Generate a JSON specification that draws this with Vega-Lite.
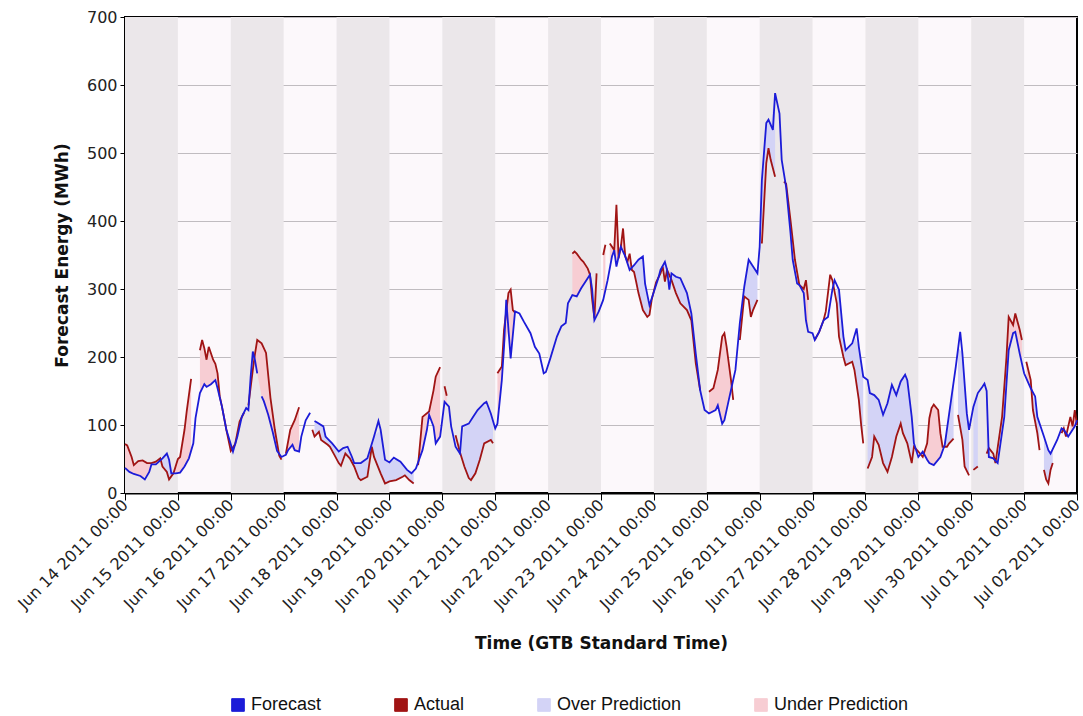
{
"$schema": "https://vega.github.io/schema/vega-lite/v6.json",
"width": 952, "height": 476,
"autosize": {"type": "none"},
"padding": {"left": 125, "top": 17, "right": 6, "bottom": 223},
"background": "white",
"config": {
  "view": {"fill": "#fcf8fb", "stroke": "#000", "strokeWidth": 2},
  "axis": {"labelFont": "DejaVu Sans", "labelFontSize": 16, "labelColor": "#222", "titleFont": "DejaVu Sans", "titleFontWeight": "bold", "titleFontSize": 17, "titleColor": "#111", "domainColor": "#000", "domainWidth": 2, "tickColor": "#000"},
  "axisY": {"gridColor": "#c0bcc0", "tickSize": 5, "labelPadding": 3, "titlePadding": 15},
  "axisX": {"grid": false, "tickSize": 7, "titlePadding": 24}
},
"datasets": {
"bands": [
{"s":"2011-06-14T00:00","e":"2011-06-15T00:00"},{"s":"2011-06-16T00:00","e":"2011-06-17T00:00"},{"s":"2011-06-18T00:00","e":"2011-06-19T00:00"},{"s":"2011-06-20T00:00","e":"2011-06-21T00:00"},{"s":"2011-06-22T00:00","e":"2011-06-23T00:00"},{"s":"2011-06-24T00:00","e":"2011-06-25T00:00"},{"s":"2011-06-26T00:00","e":"2011-06-27T00:00"},{"s":"2011-06-28T00:00","e":"2011-06-29T00:00"},{"s":"2011-06-30T00:00","e":"2011-07-01T00:00"}
],
"forecast": [
{"g":1,"t":"2011-06-14T00:00","v":37},{"g":1,"t":"2011-06-14T02:00","v":31},{"g":1,"t":"2011-06-14T04:00","v":28},{"g":1,"t":"2011-06-14T07:00","v":25},{"g":1,"t":"2011-06-14T09:00","v":20},{"g":1,"t":"2011-06-14T11:00","v":31},{"g":1,"t":"2011-06-14T12:00","v":42},{"g":1,"t":"2011-06-14T14:00","v":42},{"g":1,"t":"2011-06-14T17:00","v":51},{"g":1,"t":"2011-06-14T19:00","v":58},{"g":1,"t":"2011-06-14T20:00","v":49},{"g":1,"t":"2011-06-14T21:00","v":29},{"g":1,"t":"2011-06-14T23:00","v":29},
{"g":1,"t":"2011-06-15T01:00","v":30},{"g":1,"t":"2011-06-15T03:00","v":39},{"g":1,"t":"2011-06-15T05:00","v":51},{"g":1,"t":"2011-06-15T07:00","v":73},{"g":1,"t":"2011-06-15T08:00","v":110},{"g":1,"t":"2011-06-15T10:00","v":147},{"g":1,"t":"2011-06-15T12:00","v":160},{"g":1,"t":"2011-06-15T13:00","v":156},{"g":1,"t":"2011-06-15T15:00","v":160},{"g":1,"t":"2011-06-15T17:00","v":166},{"g":1,"t":"2011-06-15T18:00","v":154},{"g":1,"t":"2011-06-15T20:00","v":127},{"g":1,"t":"2011-06-15T22:00","v":93},
{"g":1,"t":"2011-06-16T01:00","v":61},{"g":1,"t":"2011-06-16T03:00","v":83},{"g":1,"t":"2011-06-16T05:00","v":112},{"g":1,"t":"2011-06-16T07:00","v":125},{"g":1,"t":"2011-06-16T08:00","v":122},{"g":1,"t":"2011-06-16T09:00","v":170},{"g":1,"t":"2011-06-16T10:00","v":208},{"g":1,"t":"2011-06-16T11:00","v":195},{"g":1,"t":"2011-06-16T12:00","v":176},{"g":2,"t":"2011-06-16T14:00","v":142},{"g":2,"t":"2011-06-16T15:00","v":135},{"g":2,"t":"2011-06-16T17:00","v":115},{"g":2,"t":"2011-06-16T19:00","v":90},{"g":2,"t":"2011-06-16T21:00","v":62},{"g":2,"t":"2011-06-16T23:00","v":53},
{"g":2,"t":"2011-06-17T01:00","v":56},{"g":2,"t":"2011-06-17T02:00","v":63},{"g":2,"t":"2011-06-17T04:00","v":71},{"g":2,"t":"2011-06-17T05:00","v":63},{"g":2,"t":"2011-06-17T07:00","v":61},{"g":2,"t":"2011-06-17T08:00","v":83},{"g":2,"t":"2011-06-17T10:00","v":107},{"g":2,"t":"2011-06-17T12:00","v":118},{"g":3,"t":"2011-06-17T14:00","v":106},{"g":3,"t":"2011-06-17T15:00","v":104},{"g":3,"t":"2011-06-17T18:00","v":98},{"g":3,"t":"2011-06-17T19:00","v":83},{"g":3,"t":"2011-06-17T22:00","v":73},
{"g":3,"t":"2011-06-18T01:00","v":61},{"g":3,"t":"2011-06-18T03:00","v":66},{"g":3,"t":"2011-06-18T05:00","v":68},{"g":3,"t":"2011-06-18T07:00","v":53},{"g":3,"t":"2011-06-18T08:00","v":44},{"g":3,"t":"2011-06-18T11:00","v":44},{"g":3,"t":"2011-06-18T14:00","v":51},{"g":3,"t":"2011-06-18T17:00","v":83},{"g":3,"t":"2011-06-18T19:00","v":106},{"g":3,"t":"2011-06-18T20:00","v":93},{"g":3,"t":"2011-06-18T22:00","v":49},
{"g":3,"t":"2011-06-19T00:00","v":45},{"g":3,"t":"2011-06-19T02:00","v":52},{"g":3,"t":"2011-06-19T05:00","v":46},{"g":3,"t":"2011-06-19T08:00","v":34},{"g":3,"t":"2011-06-19T10:00","v":29},{"g":3,"t":"2011-06-19T12:00","v":36},{"g":3,"t":"2011-06-19T15:00","v":63},{"g":3,"t":"2011-06-19T17:00","v":93},{"g":3,"t":"2011-06-19T18:00","v":115},{"g":3,"t":"2011-06-19T20:00","v":98},{"g":3,"t":"2011-06-19T21:00","v":73},{"g":3,"t":"2011-06-19T23:00","v":83},
{"g":3,"t":"2011-06-20T01:00","v":134},{"g":3,"t":"2011-06-20T03:00","v":127},{"g":3,"t":"2011-06-20T04:00","v":98},{"g":3,"t":"2011-06-20T06:00","v":68},{"g":3,"t":"2011-06-20T08:00","v":58},{"g":3,"t":"2011-06-20T09:00","v":98},{"g":3,"t":"2011-06-20T12:00","v":102},{"g":3,"t":"2011-06-20T14:00","v":112},{"g":3,"t":"2011-06-20T16:00","v":122},{"g":3,"t":"2011-06-20T19:00","v":132},{"g":3,"t":"2011-06-20T20:00","v":134},{"g":3,"t":"2011-06-20T22:00","v":117},
{"g":3,"t":"2011-06-21T00:00","v":95},{"g":3,"t":"2011-06-21T01:00","v":102},{"g":3,"t":"2011-06-21T03:00","v":166},{"g":3,"t":"2011-06-21T04:00","v":215},{"g":3,"t":"2011-06-21T05:00","v":284},{"g":3,"t":"2011-06-21T07:00","v":198},{"g":3,"t":"2011-06-21T09:00","v":267},{"g":3,"t":"2011-06-21T11:00","v":264},{"g":3,"t":"2011-06-21T13:00","v":252},{"g":3,"t":"2011-06-21T16:00","v":235},{"g":3,"t":"2011-06-21T18:00","v":215},{"g":3,"t":"2011-06-21T20:00","v":205},{"g":3,"t":"2011-06-21T22:00","v":176},{"g":3,"t":"2011-06-21T23:00","v":178},
{"g":3,"t":"2011-06-22T01:00","v":198},{"g":3,"t":"2011-06-22T04:00","v":230},{"g":3,"t":"2011-06-22T06:00","v":245},{"g":3,"t":"2011-06-22T08:00","v":250},{"g":3,"t":"2011-06-22T09:00","v":279},{"g":3,"t":"2011-06-22T11:00","v":291},{"g":3,"t":"2011-06-22T13:00","v":289},{"g":3,"t":"2011-06-22T15:00","v":301},{"g":3,"t":"2011-06-22T17:00","v":311},{"g":3,"t":"2011-06-22T19:00","v":321},{"g":3,"t":"2011-06-22T20:00","v":299},{"g":3,"t":"2011-06-22T21:00","v":254},{"g":3,"t":"2011-06-22T23:00","v":267},
{"g":3,"t":"2011-06-23T01:00","v":284},{"g":3,"t":"2011-06-23T03:00","v":313},{"g":3,"t":"2011-06-23T05:00","v":348},{"g":3,"t":"2011-06-23T06:00","v":357},{"g":3,"t":"2011-06-23T07:00","v":333},{"g":3,"t":"2011-06-23T09:00","v":362},{"g":3,"t":"2011-06-23T11:00","v":348},{"g":3,"t":"2011-06-23T13:00","v":328},{"g":3,"t":"2011-06-23T15:00","v":335},{"g":3,"t":"2011-06-23T17:00","v":343},{"g":3,"t":"2011-06-23T19:00","v":348},{"g":3,"t":"2011-06-23T20:00","v":308},{"g":3,"t":"2011-06-23T22:00","v":276},
{"g":3,"t":"2011-06-24T00:00","v":296},{"g":3,"t":"2011-06-24T02:00","v":316},{"g":3,"t":"2011-06-24T03:00","v":328},{"g":3,"t":"2011-06-24T05:00","v":340},{"g":3,"t":"2011-06-24T06:00","v":328},{"g":3,"t":"2011-06-24T07:00","v":299},{"g":3,"t":"2011-06-24T08:00","v":323},{"g":3,"t":"2011-06-24T10:00","v":318},{"g":3,"t":"2011-06-24T12:00","v":316},{"g":3,"t":"2011-06-24T15:00","v":294},{"g":3,"t":"2011-06-24T17:00","v":264},{"g":3,"t":"2011-06-24T19:00","v":205},{"g":3,"t":"2011-06-24T21:00","v":151},{"g":3,"t":"2011-06-24T23:00","v":122},
{"g":3,"t":"2011-06-25T01:00","v":117},{"g":3,"t":"2011-06-25T04:00","v":122},{"g":3,"t":"2011-06-25T05:00","v":129},{"g":3,"t":"2011-06-25T07:00","v":102},{"g":3,"t":"2011-06-25T08:00","v":107},{"g":3,"t":"2011-06-25T10:00","v":137},{"g":3,"t":"2011-06-25T13:00","v":181},{"g":3,"t":"2011-06-25T15:00","v":250},{"g":3,"t":"2011-06-25T17:00","v":303},{"g":3,"t":"2011-06-25T19:00","v":343},{"g":3,"t":"2011-06-25T21:00","v":333},{"g":3,"t":"2011-06-25T23:00","v":323},
{"g":3,"t":"2011-06-26T00:00","v":362},{"g":3,"t":"2011-06-26T01:00","v":460},{"g":3,"t":"2011-06-26T03:00","v":544},{"g":3,"t":"2011-06-26T04:00","v":549},{"g":3,"t":"2011-06-26T06:00","v":534},{"g":3,"t":"2011-06-26T07:00","v":588},{"g":3,"t":"2011-06-26T09:00","v":558},{"g":3,"t":"2011-06-26T10:00","v":490},{"g":3,"t":"2011-06-26T12:00","v":450},{"g":3,"t":"2011-06-26T14:00","v":382},{"g":3,"t":"2011-06-26T15:00","v":343},{"g":3,"t":"2011-06-26T17:00","v":308},{"g":3,"t":"2011-06-26T18:00","v":306},{"g":3,"t":"2011-06-26T20:00","v":294},{"g":3,"t":"2011-06-26T21:00","v":254},{"g":3,"t":"2011-06-26T22:00","v":237},
{"g":3,"t":"2011-06-27T00:00","v":235},{"g":3,"t":"2011-06-27T01:00","v":225},{"g":3,"t":"2011-06-27T03:00","v":237},{"g":3,"t":"2011-06-27T05:00","v":254},{"g":3,"t":"2011-06-27T07:00","v":259},{"g":3,"t":"2011-06-27T09:00","v":299},{"g":3,"t":"2011-06-27T10:00","v":313},{"g":3,"t":"2011-06-27T12:00","v":299},{"g":3,"t":"2011-06-27T14:00","v":230},{"g":3,"t":"2011-06-27T15:00","v":210},{"g":3,"t":"2011-06-27T18:00","v":220},{"g":3,"t":"2011-06-27T20:00","v":242},{"g":3,"t":"2011-06-27T21:00","v":215},{"g":3,"t":"2011-06-27T23:00","v":171},
{"g":3,"t":"2011-06-28T01:00","v":166},{"g":3,"t":"2011-06-28T02:00","v":147},{"g":3,"t":"2011-06-28T04:00","v":144},{"g":3,"t":"2011-06-28T06:00","v":137},{"g":3,"t":"2011-06-28T08:00","v":115},{"g":3,"t":"2011-06-28T10:00","v":132},{"g":3,"t":"2011-06-28T12:00","v":159},{"g":3,"t":"2011-06-28T14:00","v":144},{"g":3,"t":"2011-06-28T16:00","v":164},{"g":3,"t":"2011-06-28T18:00","v":174},{"g":3,"t":"2011-06-28T19:00","v":166},{"g":3,"t":"2011-06-28T21:00","v":112},{"g":3,"t":"2011-06-28T22:00","v":73},
{"g":3,"t":"2011-06-29T00:00","v":53},{"g":3,"t":"2011-06-29T02:00","v":61},{"g":3,"t":"2011-06-29T04:00","v":49},{"g":3,"t":"2011-06-29T05:00","v":44},{"g":3,"t":"2011-06-29T07:00","v":41},{"g":3,"t":"2011-06-29T10:00","v":53},{"g":3,"t":"2011-06-29T12:00","v":71},{"g":3,"t":"2011-06-29T14:00","v":117},{"g":3,"t":"2011-06-29T17:00","v":186},{"g":3,"t":"2011-06-29T19:00","v":237},{"g":3,"t":"2011-06-29T20:00","v":205},{"g":3,"t":"2011-06-29T22:00","v":117},{"g":3,"t":"2011-06-29T23:00","v":93},
{"g":3,"t":"2011-06-30T01:00","v":127},{"g":3,"t":"2011-06-30T03:00","v":147},{"g":3,"t":"2011-06-30T05:00","v":156},{"g":3,"t":"2011-06-30T06:00","v":161},{"g":3,"t":"2011-06-30T07:00","v":150},{"g":3,"t":"2011-06-30T08:00","v":53},{"g":3,"t":"2011-06-30T10:00","v":51},{"g":3,"t":"2011-06-30T12:00","v":44},{"g":3,"t":"2011-06-30T15:00","v":112},{"g":3,"t":"2011-06-30T17:00","v":210},{"g":3,"t":"2011-06-30T19:00","v":235},{"g":3,"t":"2011-06-30T20:00","v":237},{"g":3,"t":"2011-06-30T22:00","v":205},
{"g":3,"t":"2011-07-01T00:00","v":176},{"g":3,"t":"2011-07-01T03:00","v":154},{"g":3,"t":"2011-07-01T05:00","v":142},{"g":3,"t":"2011-07-01T06:00","v":112},{"g":3,"t":"2011-07-01T09:00","v":83},{"g":3,"t":"2011-07-01T11:00","v":63},{"g":3,"t":"2011-07-01T12:00","v":58},{"g":3,"t":"2011-07-01T15:00","v":78},{"g":3,"t":"2011-07-01T17:00","v":95},{"g":3,"t":"2011-07-01T18:00","v":93},{"g":3,"t":"2011-07-01T20:00","v":83},{"g":3,"t":"2011-07-01T22:00","v":93},{"g":3,"t":"2011-07-01T23:00","v":98},{"g":3,"t":"2011-07-02T00:00","v":107}
],
"actual": [
{"g":1,"t":"2011-06-14T00:00","v":72},{"g":1,"t":"2011-06-14T01:00","v":70},{"g":1,"t":"2011-06-14T03:00","v":53},{"g":1,"t":"2011-06-14T04:00","v":41},{"g":1,"t":"2011-06-14T06:00","v":47},{"g":1,"t":"2011-06-14T08:00","v":48},{"g":1,"t":"2011-06-14T10:00","v":44},{"g":1,"t":"2011-06-14T12:00","v":44},{"g":1,"t":"2011-06-14T14:00","v":46},{"g":1,"t":"2011-06-14T16:00","v":51},{"g":1,"t":"2011-06-14T17:00","v":39},{"g":1,"t":"2011-06-14T19:00","v":31},{"g":1,"t":"2011-06-14T20:00","v":20},{"g":1,"t":"2011-06-14T22:00","v":29},
{"g":1,"t":"2011-06-15T00:00","v":50},{"g":1,"t":"2011-06-15T01:00","v":53},{"g":1,"t":"2011-06-15T03:00","v":93},{"g":1,"t":"2011-06-15T04:00","v":120},{"g":1,"t":"2011-06-15T06:00","v":168},
{"g":2,"t":"2011-06-15T10:00","v":210},{"g":2,"t":"2011-06-15T11:00","v":225},{"g":2,"t":"2011-06-15T12:00","v":213},{"g":2,"t":"2011-06-15T13:00","v":196},{"g":2,"t":"2011-06-15T14:00","v":215},{"g":2,"t":"2011-06-15T16:00","v":196},{"g":2,"t":"2011-06-15T17:00","v":190},{"g":2,"t":"2011-06-15T18:00","v":176},{"g":2,"t":"2011-06-15T19:00","v":142},{"g":2,"t":"2011-06-15T20:00","v":127},{"g":2,"t":"2011-06-15T22:00","v":93},
{"g":2,"t":"2011-06-16T00:00","v":62},{"g":2,"t":"2011-06-16T02:00","v":72},{"g":2,"t":"2011-06-16T04:00","v":105},{"g":2,"t":"2011-06-16T06:00","v":118},
{"g":3,"t":"2011-06-16T08:00","v":129},{"g":3,"t":"2011-06-16T10:00","v":181},{"g":3,"t":"2011-06-16T11:00","v":205},{"g":3,"t":"2011-06-16T12:00","v":225},{"g":3,"t":"2011-06-16T14:00","v":220},{"g":3,"t":"2011-06-16T16:00","v":206},{"g":3,"t":"2011-06-16T18:00","v":140},{"g":3,"t":"2011-06-16T20:00","v":93},{"g":3,"t":"2011-06-16T22:00","v":55},{"g":3,"t":"2011-06-16T23:00","v":49},
{"g":4,"t":"2011-06-17T01:00","v":58},{"g":4,"t":"2011-06-17T03:00","v":93},{"g":4,"t":"2011-06-17T05:00","v":107},{"g":4,"t":"2011-06-17T07:00","v":126},
{"g":5,"t":"2011-06-17T13:00","v":93},{"g":5,"t":"2011-06-17T14:00","v":83},{"g":5,"t":"2011-06-17T16:00","v":90},{"g":5,"t":"2011-06-17T17:00","v":78},{"g":5,"t":"2011-06-17T20:00","v":71},{"g":5,"t":"2011-06-17T21:00","v":68},{"g":5,"t":"2011-06-17T23:00","v":56},
{"g":5,"t":"2011-06-18T01:00","v":44},{"g":5,"t":"2011-06-18T02:00","v":40},{"g":5,"t":"2011-06-18T04:00","v":58},{"g":5,"t":"2011-06-18T06:00","v":51},{"g":5,"t":"2011-06-18T08:00","v":39},{"g":5,"t":"2011-06-18T10:00","v":22},{"g":5,"t":"2011-06-18T11:00","v":19},{"g":5,"t":"2011-06-18T14:00","v":24},{"g":5,"t":"2011-06-18T16:00","v":68},{"g":5,"t":"2011-06-18T17:00","v":53},{"g":5,"t":"2011-06-18T20:00","v":29},{"g":5,"t":"2011-06-18T22:00","v":14},
{"g":5,"t":"2011-06-19T00:00","v":17},{"g":5,"t":"2011-06-19T03:00","v":19},{"g":5,"t":"2011-06-19T06:00","v":24},{"g":5,"t":"2011-06-19T07:00","v":26},{"g":5,"t":"2011-06-19T09:00","v":19},{"g":5,"t":"2011-06-19T11:00","v":14},
{"g":6,"t":"2011-06-19T13:00","v":41},{"g":6,"t":"2011-06-19T15:00","v":112},{"g":6,"t":"2011-06-19T18:00","v":120},{"g":6,"t":"2011-06-19T20:00","v":151},{"g":6,"t":"2011-06-19T21:00","v":171},{"g":6,"t":"2011-06-19T23:00","v":185},
{"g":7,"t":"2011-06-20T01:00","v":157},{"g":7,"t":"2011-06-20T02:00","v":143},
{"g":8,"t":"2011-06-20T06:00","v":85},{"g":8,"t":"2011-06-20T08:00","v":60},{"g":8,"t":"2011-06-20T10:00","v":39},{"g":8,"t":"2011-06-20T12:00","v":22},{"g":8,"t":"2011-06-20T13:00","v":19},{"g":8,"t":"2011-06-20T15:00","v":29},{"g":8,"t":"2011-06-20T17:00","v":49},{"g":8,"t":"2011-06-20T19:00","v":73},{"g":8,"t":"2011-06-20T22:00","v":78},{"g":8,"t":"2011-06-20T23:00","v":73},
{"g":9,"t":"2011-06-21T01:00","v":176},{"g":9,"t":"2011-06-21T03:00","v":186},{"g":9,"t":"2011-06-21T04:00","v":240},{"g":9,"t":"2011-06-21T06:00","v":294},{"g":9,"t":"2011-06-21T07:00","v":299},{"g":9,"t":"2011-06-21T08:00","v":269},{"g":9,"t":"2011-06-21T09:00","v":265},
{"g":10,"t":"2011-06-22T11:00","v":352},{"g":10,"t":"2011-06-22T12:00","v":355},{"g":10,"t":"2011-06-22T13:00","v":352},{"g":10,"t":"2011-06-22T15:00","v":343},{"g":10,"t":"2011-06-22T16:00","v":340},{"g":10,"t":"2011-06-22T18:00","v":330},{"g":10,"t":"2011-06-22T19:00","v":321},{"g":10,"t":"2011-06-22T20:00","v":284},{"g":10,"t":"2011-06-22T21:00","v":257},{"g":10,"t":"2011-06-22T22:00","v":323},
{"g":11,"t":"2011-06-23T01:00","v":350},{"g":11,"t":"2011-06-23T02:00","v":365},
{"g":12,"t":"2011-06-23T04:00","v":367},{"g":12,"t":"2011-06-23T05:00","v":362},{"g":12,"t":"2011-06-23T06:00","v":357},{"g":12,"t":"2011-06-23T07:00","v":424},{"g":12,"t":"2011-06-23T08:00","v":345},{"g":12,"t":"2011-06-23T09:00","v":362},{"g":12,"t":"2011-06-23T10:00","v":389},{"g":12,"t":"2011-06-23T11:00","v":348},{"g":12,"t":"2011-06-23T12:00","v":340},{"g":12,"t":"2011-06-23T13:00","v":352},{"g":12,"t":"2011-06-23T14:00","v":328},{"g":12,"t":"2011-06-23T15:00","v":325},{"g":12,"t":"2011-06-23T16:00","v":310},{"g":12,"t":"2011-06-23T17:00","v":294},{"g":12,"t":"2011-06-23T19:00","v":269},{"g":12,"t":"2011-06-23T21:00","v":259},{"g":12,"t":"2011-06-23T22:00","v":262},{"g":12,"t":"2011-06-23T23:00","v":284},
{"g":12,"t":"2011-06-24T01:00","v":310},{"g":12,"t":"2011-06-24T03:00","v":323},{"g":12,"t":"2011-06-24T04:00","v":333},{"g":12,"t":"2011-06-24T05:00","v":311},{"g":12,"t":"2011-06-24T06:00","v":328},{"g":12,"t":"2011-06-24T08:00","v":313},{"g":12,"t":"2011-06-24T10:00","v":294},{"g":12,"t":"2011-06-24T12:00","v":279},{"g":12,"t":"2011-06-24T15:00","v":269},{"g":12,"t":"2011-06-24T17:00","v":254},{"g":12,"t":"2011-06-24T19:00","v":191},{"g":12,"t":"2011-06-24T21:00","v":151},
{"g":13,"t":"2011-06-25T01:00","v":149},{"g":13,"t":"2011-06-25T03:00","v":154},{"g":13,"t":"2011-06-25T05:00","v":181},{"g":13,"t":"2011-06-25T07:00","v":230},{"g":13,"t":"2011-06-25T08:00","v":235},{"g":13,"t":"2011-06-25T09:00","v":215},{"g":13,"t":"2011-06-25T11:00","v":166},{"g":13,"t":"2011-06-25T12:00","v":137},
{"g":14,"t":"2011-06-25T15:00","v":225},{"g":14,"t":"2011-06-25T17:00","v":289},{"g":14,"t":"2011-06-25T19:00","v":284},{"g":14,"t":"2011-06-25T20:00","v":259},{"g":14,"t":"2011-06-25T21:00","v":269},{"g":14,"t":"2011-06-25T23:00","v":284},
{"g":15,"t":"2011-06-26T01:00","v":367},{"g":15,"t":"2011-06-26T03:00","v":485},{"g":15,"t":"2011-06-26T04:00","v":507},{"g":15,"t":"2011-06-26T05:00","v":490},{"g":15,"t":"2011-06-26T07:00","v":465},
{"g":16,"t":"2011-06-26T11:00","v":458},{"g":16,"t":"2011-06-26T12:00","v":455},{"g":16,"t":"2011-06-26T14:00","v":401},{"g":16,"t":"2011-06-26T16:00","v":343},{"g":16,"t":"2011-06-26T18:00","v":306},{"g":16,"t":"2011-06-26T20:00","v":300},{"g":16,"t":"2011-06-26T21:00","v":313},{"g":16,"t":"2011-06-26T22:00","v":284},
{"g":17,"t":"2011-06-27T01:00","v":225},{"g":17,"t":"2011-06-27T03:00","v":237},{"g":17,"t":"2011-06-27T05:00","v":254},{"g":17,"t":"2011-06-27T06:00","v":267},{"g":17,"t":"2011-06-27T08:00","v":321},{"g":17,"t":"2011-06-27T09:00","v":313},{"g":17,"t":"2011-06-27T11:00","v":279},{"g":17,"t":"2011-06-27T12:00","v":230},{"g":17,"t":"2011-06-27T14:00","v":200},{"g":17,"t":"2011-06-27T15:00","v":188},{"g":17,"t":"2011-06-27T18:00","v":193},{"g":17,"t":"2011-06-27T19:00","v":181},{"g":17,"t":"2011-06-27T21:00","v":137},{"g":17,"t":"2011-06-27T22:00","v":102},{"g":17,"t":"2011-06-27T23:00","v":73},
{"g":18,"t":"2011-06-28T01:00","v":36},{"g":18,"t":"2011-06-28T03:00","v":53},{"g":18,"t":"2011-06-28T04:00","v":83},{"g":18,"t":"2011-06-28T06:00","v":71},{"g":18,"t":"2011-06-28T08:00","v":44},{"g":18,"t":"2011-06-28T10:00","v":31},{"g":18,"t":"2011-06-28T12:00","v":53},{"g":18,"t":"2011-06-28T14:00","v":83},{"g":18,"t":"2011-06-28T16:00","v":102},{"g":18,"t":"2011-06-28T17:00","v":88},{"g":18,"t":"2011-06-28T19:00","v":73},{"g":18,"t":"2011-06-28T21:00","v":44},{"g":18,"t":"2011-06-28T22:00","v":68},
{"g":18,"t":"2011-06-29T00:00","v":61},{"g":18,"t":"2011-06-29T02:00","v":53},{"g":18,"t":"2011-06-29T04:00","v":73},{"g":18,"t":"2011-06-29T05:00","v":110},{"g":18,"t":"2011-06-29T06:00","v":125},{"g":18,"t":"2011-06-29T07:00","v":130},{"g":18,"t":"2011-06-29T09:00","v":122},{"g":18,"t":"2011-06-29T10:00","v":88},{"g":18,"t":"2011-06-29T11:00","v":68},{"g":18,"t":"2011-06-29T13:00","v":68},{"g":18,"t":"2011-06-29T14:00","v":73},{"g":18,"t":"2011-06-29T16:00","v":80},
{"g":19,"t":"2011-06-29T18:00","v":115},{"g":19,"t":"2011-06-29T20:00","v":78},{"g":19,"t":"2011-06-29T21:00","v":39},{"g":19,"t":"2011-06-29T23:00","v":26},
{"g":20,"t":"2011-06-30T01:00","v":34},{"g":20,"t":"2011-06-30T03:00","v":39},
{"g":21,"t":"2011-06-30T07:00","v":58},{"g":21,"t":"2011-06-30T08:00","v":66},{"g":21,"t":"2011-06-30T10:00","v":58},{"g":21,"t":"2011-06-30T11:00","v":44},{"g":21,"t":"2011-06-30T14:00","v":112},{"g":21,"t":"2011-06-30T16:00","v":200},{"g":21,"t":"2011-06-30T17:00","v":259},{"g":21,"t":"2011-06-30T19:00","v":247},{"g":21,"t":"2011-06-30T20:00","v":264},{"g":21,"t":"2011-06-30T22:00","v":240},{"g":21,"t":"2011-06-30T23:00","v":225},
{"g":22,"t":"2011-07-01T01:00","v":193},{"g":22,"t":"2011-07-01T03:00","v":166},{"g":22,"t":"2011-07-01T04:00","v":122},{"g":22,"t":"2011-07-01T06:00","v":88},{"g":22,"t":"2011-07-01T07:00","v":63},
{"g":23,"t":"2011-07-01T09:00","v":34},{"g":23,"t":"2011-07-01T10:00","v":20},{"g":23,"t":"2011-07-01T11:00","v":14},{"g":23,"t":"2011-07-01T12:00","v":34},{"g":23,"t":"2011-07-01T13:00","v":44},
{"g":24,"t":"2011-07-01T17:00","v":88},{"g":24,"t":"2011-07-01T18:00","v":95},{"g":24,"t":"2011-07-01T19:00","v":83},{"g":24,"t":"2011-07-01T21:00","v":112},{"g":24,"t":"2011-07-01T22:00","v":98},{"g":24,"t":"2011-07-01T23:00","v":122},{"g":24,"t":"2011-07-02T00:00","v":100}
],
"fill": [
{"s":1,"k":"Under Prediction","t":"2011-06-14T00:00","f":37,"a":72},{"s":1,"k":"Under Prediction","t":"2011-06-14T01:00","f":34,"a":70},{"s":1,"k":"Under Prediction","t":"2011-06-14T03:00","f":30,"a":53},{"s":1,"k":"Under Prediction","t":"2011-06-14T04:00","f":28,"a":41},{"s":1,"k":"Under Prediction","t":"2011-06-14T06:00","f":26,"a":47},{"s":1,"k":"Under Prediction","t":"2011-06-14T08:00","f":22,"a":48},{"s":1,"k":"Under Prediction","t":"2011-06-14T10:00","f":26,"a":44},{"s":1,"k":"Under Prediction","t":"2011-06-14T12:00","f":42,"a":44},{"s":1,"k":"Under Prediction","t":"2011-06-14T14:00","f":42,"a":46},{"s":1,"k":"Under Prediction","t":"2011-06-14T16:00","f":48,"a":51},
{"s":2,"k":"Over Prediction","t":"2011-06-14T16:00","f":48,"a":51},{"s":2,"k":"Over Prediction","t":"2011-06-14T17:00","f":51,"a":39},{"s":2,"k":"Over Prediction","t":"2011-06-14T19:00","f":58,"a":31},{"s":2,"k":"Over Prediction","t":"2011-06-14T20:00","f":49,"a":20},{"s":2,"k":"Over Prediction","t":"2011-06-14T22:00","f":29,"a":29},
{"s":3,"k":"Under Prediction","t":"2011-06-14T22:00","f":29,"a":29},{"s":3,"k":"Under Prediction","t":"2011-06-15T00:00","f":30,"a":50},{"s":3,"k":"Under Prediction","t":"2011-06-15T01:00","f":31,"a":53},{"s":3,"k":"Under Prediction","t":"2011-06-15T03:00","f":39,"a":93},{"s":3,"k":"Under Prediction","t":"2011-06-15T04:00","f":45,"a":120},{"s":3,"k":"Under Prediction","t":"2011-06-15T06:00","f":60,"a":168},
{"s":4,"k":"Under Prediction","t":"2011-06-15T10:00","f":147,"a":210},{"s":4,"k":"Under Prediction","t":"2011-06-15T11:00","f":155,"a":225},{"s":4,"k":"Under Prediction","t":"2011-06-15T12:00","f":160,"a":213},{"s":4,"k":"Under Prediction","t":"2011-06-15T13:00","f":156,"a":196},{"s":4,"k":"Under Prediction","t":"2011-06-15T14:00","f":158,"a":215},{"s":4,"k":"Under Prediction","t":"2011-06-15T16:00","f":163,"a":196},{"s":4,"k":"Under Prediction","t":"2011-06-15T17:00","f":166,"a":190},{"s":4,"k":"Under Prediction","t":"2011-06-15T18:00","f":154,"a":176},{"s":4,"k":"Under Prediction","t":"2011-06-15T19:00","f":140,"a":142},{"s":4,"k":"Under Prediction","t":"2011-06-15T20:00","f":127,"a":127},
{"s":5,"k":"Under Prediction","t":"2011-06-16T11:00","f":195,"a":205},{"s":5,"k":"Under Prediction","t":"2011-06-16T12:00","f":176,"a":225},{"s":5,"k":"Under Prediction","t":"2011-06-16T14:00","f":142,"a":220},{"s":5,"k":"Under Prediction","t":"2011-06-16T16:00","f":120,"a":206},{"s":5,"k":"Under Prediction","t":"2011-06-16T18:00","f":98,"a":140},{"s":5,"k":"Under Prediction","t":"2011-06-16T20:00","f":75,"a":93},{"s":5,"k":"Under Prediction","t":"2011-06-16T22:00","f":57,"a":55},
{"s":6,"k":"Under Prediction","t":"2011-06-17T01:00","f":56,"a":58},{"s":6,"k":"Under Prediction","t":"2011-06-17T03:00","f":67,"a":93},{"s":6,"k":"Under Prediction","t":"2011-06-17T05:00","f":63,"a":107},{"s":6,"k":"Under Prediction","t":"2011-06-17T07:00","f":61,"a":126},
{"s":7,"k":"Over Prediction","t":"2011-06-17T14:00","f":106,"a":83},{"s":7,"k":"Over Prediction","t":"2011-06-17T16:00","f":102,"a":90},{"s":7,"k":"Over Prediction","t":"2011-06-17T17:00","f":100,"a":78},{"s":7,"k":"Over Prediction","t":"2011-06-17T20:00","f":80,"a":71},{"s":7,"k":"Over Prediction","t":"2011-06-17T21:00","f":76,"a":68},{"s":7,"k":"Over Prediction","t":"2011-06-17T23:00","f":66,"a":56},{"s":7,"k":"Over Prediction","t":"2011-06-18T01:00","f":61,"a":44},{"s":7,"k":"Over Prediction","t":"2011-06-18T02:00","f":63,"a":40},{"s":7,"k":"Over Prediction","t":"2011-06-18T04:00","f":67,"a":58},{"s":7,"k":"Over Prediction","t":"2011-06-18T06:00","f":60,"a":51},{"s":7,"k":"Over Prediction","t":"2011-06-18T08:00","f":44,"a":39},{"s":7,"k":"Over Prediction","t":"2011-06-18T10:00","f":44,"a":22},{"s":7,"k":"Over Prediction","t":"2011-06-18T11:00","f":44,"a":19},{"s":7,"k":"Over Prediction","t":"2011-06-18T14:00","f":51,"a":24},{"s":7,"k":"Over Prediction","t":"2011-06-18T16:00","f":75,"a":68},{"s":7,"k":"Over Prediction","t":"2011-06-18T17:00","f":83,"a":53},{"s":7,"k":"Over Prediction","t":"2011-06-18T20:00","f":93,"a":29},{"s":7,"k":"Over Prediction","t":"2011-06-18T22:00","f":49,"a":14},{"s":7,"k":"Over Prediction","t":"2011-06-19T00:00","f":45,"a":17},{"s":7,"k":"Over Prediction","t":"2011-06-19T03:00","f":50,"a":19},{"s":7,"k":"Over Prediction","t":"2011-06-19T06:00","f":42,"a":24},{"s":7,"k":"Over Prediction","t":"2011-06-19T07:00","f":38,"a":26},{"s":7,"k":"Over Prediction","t":"2011-06-19T09:00","f":31,"a":19},{"s":7,"k":"Over Prediction","t":"2011-06-19T11:00","f":32,"a":14},
{"s":8,"k":"Under Prediction","t":"2011-06-19T13:00","f":45,"a":41},{"s":8,"k":"Under Prediction","t":"2011-06-19T15:00","f":63,"a":112},{"s":8,"k":"Under Prediction","t":"2011-06-19T18:00","f":115,"a":120},{"s":8,"k":"Under Prediction","t":"2011-06-19T20:00","f":98,"a":151},{"s":8,"k":"Under Prediction","t":"2011-06-19T21:00","f":73,"a":171},{"s":8,"k":"Under Prediction","t":"2011-06-19T23:00","f":83,"a":185},
{"s":9,"k":"Under Prediction","t":"2011-06-20T01:00","f":134,"a":157},{"s":9,"k":"Under Prediction","t":"2011-06-20T02:00","f":130,"a":143},
{"s":10,"k":"Over Prediction","t":"2011-06-20T08:00","f":58,"a":60},{"s":10,"k":"Over Prediction","t":"2011-06-20T10:00","f":99,"a":39},{"s":10,"k":"Over Prediction","t":"2011-06-20T12:00","f":102,"a":22},{"s":10,"k":"Over Prediction","t":"2011-06-20T13:00","f":107,"a":19},{"s":10,"k":"Over Prediction","t":"2011-06-20T15:00","f":117,"a":29},{"s":10,"k":"Over Prediction","t":"2011-06-20T17:00","f":125,"a":49},{"s":10,"k":"Over Prediction","t":"2011-06-20T19:00","f":132,"a":73},{"s":10,"k":"Over Prediction","t":"2011-06-20T22:00","f":117,"a":78},{"s":10,"k":"Over Prediction","t":"2011-06-20T23:00","f":105,"a":73},
{"s":11,"k":"Under Prediction","t":"2011-06-21T01:00","f":102,"a":176},{"s":11,"k":"Under Prediction","t":"2011-06-21T03:00","f":166,"a":186},{"s":11,"k":"Under Prediction","t":"2011-06-21T04:00","f":215,"a":240},{"s":11,"k":"Under Prediction","t":"2011-06-21T06:00","f":240,"a":294},{"s":11,"k":"Under Prediction","t":"2011-06-21T07:00","f":198,"a":299},{"s":11,"k":"Under Prediction","t":"2011-06-21T08:00","f":235,"a":269},{"s":11,"k":"Under Prediction","t":"2011-06-21T09:00","f":267,"a":265},
{"s":12,"k":"Under Prediction","t":"2011-06-22T11:00","f":291,"a":352},{"s":12,"k":"Under Prediction","t":"2011-06-22T12:00","f":290,"a":355},{"s":12,"k":"Under Prediction","t":"2011-06-22T13:00","f":289,"a":352},{"s":12,"k":"Under Prediction","t":"2011-06-22T15:00","f":301,"a":343},{"s":12,"k":"Under Prediction","t":"2011-06-22T16:00","f":306,"a":340},{"s":12,"k":"Under Prediction","t":"2011-06-22T18:00","f":316,"a":330},{"s":12,"k":"Under Prediction","t":"2011-06-22T19:00","f":321,"a":321},
{"s":13,"k":"Under Prediction","t":"2011-06-22T21:00","f":254,"a":257},{"s":13,"k":"Under Prediction","t":"2011-06-22T22:00","f":262,"a":323},
{"s":14,"k":"Under Prediction","t":"2011-06-23T01:00","f":284,"a":350},{"s":14,"k":"Under Prediction","t":"2011-06-23T02:00","f":298,"a":365},
{"s":15,"k":"Under Prediction","t":"2011-06-23T04:00","f":340,"a":367},{"s":15,"k":"Under Prediction","t":"2011-06-23T05:00","f":348,"a":362},{"s":15,"k":"Under Prediction","t":"2011-06-23T06:00","f":357,"a":357},{"s":15,"k":"Under Prediction","t":"2011-06-23T07:00","f":333,"a":424},{"s":15,"k":"Under Prediction","t":"2011-06-23T08:00","f":347,"a":345},{"s":15,"k":"Under Prediction","t":"2011-06-23T09:00","f":362,"a":362},{"s":15,"k":"Under Prediction","t":"2011-06-23T10:00","f":355,"a":389},{"s":15,"k":"Under Prediction","t":"2011-06-23T11:00","f":348,"a":348},{"s":15,"k":"Under Prediction","t":"2011-06-23T12:00","f":338,"a":340},{"s":15,"k":"Under Prediction","t":"2011-06-23T13:00","f":328,"a":352},
{"s":16,"k":"Over Prediction","t":"2011-06-23T13:00","f":328,"a":352},{"s":16,"k":"Over Prediction","t":"2011-06-23T14:00","f":331,"a":328},{"s":16,"k":"Over Prediction","t":"2011-06-23T15:00","f":335,"a":325},{"s":16,"k":"Over Prediction","t":"2011-06-23T16:00","f":339,"a":310},{"s":16,"k":"Over Prediction","t":"2011-06-23T17:00","f":343,"a":294},{"s":16,"k":"Over Prediction","t":"2011-06-23T19:00","f":348,"a":269},{"s":16,"k":"Over Prediction","t":"2011-06-23T20:00","f":308,"a":264},{"s":16,"k":"Over Prediction","t":"2011-06-23T21:00","f":292,"a":259},{"s":16,"k":"Over Prediction","t":"2011-06-23T22:00","f":276,"a":262},{"s":16,"k":"Over Prediction","t":"2011-06-23T23:00","f":286,"a":284},{"s":16,"k":"Over Prediction","t":"2011-06-24T01:00","f":306,"a":310},{"s":16,"k":"Over Prediction","t":"2011-06-24T03:00","f":328,"a":323},{"s":16,"k":"Over Prediction","t":"2011-06-24T04:00","f":334,"a":333},{"s":16,"k":"Over Prediction","t":"2011-06-24T05:00","f":340,"a":311},{"s":16,"k":"Over Prediction","t":"2011-06-24T06:00","f":328,"a":328},{"s":16,"k":"Over Prediction","t":"2011-06-24T08:00","f":323,"a":313},{"s":16,"k":"Over Prediction","t":"2011-06-24T10:00","f":318,"a":294},{"s":16,"k":"Over Prediction","t":"2011-06-24T12:00","f":316,"a":279},{"s":16,"k":"Over Prediction","t":"2011-06-24T15:00","f":294,"a":269},{"s":16,"k":"Over Prediction","t":"2011-06-24T17:00","f":264,"a":254},{"s":16,"k":"Over Prediction","t":"2011-06-24T19:00","f":205,"a":191},{"s":16,"k":"Over Prediction","t":"2011-06-24T21:00","f":151,"a":151},
{"s":17,"k":"Under Prediction","t":"2011-06-25T01:00","f":117,"a":149},{"s":17,"k":"Under Prediction","t":"2011-06-25T03:00","f":120,"a":154},{"s":17,"k":"Under Prediction","t":"2011-06-25T05:00","f":129,"a":181},{"s":17,"k":"Under Prediction","t":"2011-06-25T07:00","f":102,"a":230},{"s":17,"k":"Under Prediction","t":"2011-06-25T08:00","f":107,"a":235},{"s":17,"k":"Under Prediction","t":"2011-06-25T09:00","f":122,"a":215},{"s":17,"k":"Under Prediction","t":"2011-06-25T11:00","f":150,"a":166},
{"s":18,"k":"Over Prediction","t":"2011-06-25T15:00","f":250,"a":225},{"s":18,"k":"Over Prediction","t":"2011-06-25T17:00","f":303,"a":289},{"s":18,"k":"Over Prediction","t":"2011-06-25T19:00","f":343,"a":284},{"s":18,"k":"Over Prediction","t":"2011-06-25T20:00","f":338,"a":259},{"s":18,"k":"Over Prediction","t":"2011-06-25T21:00","f":333,"a":269},{"s":18,"k":"Over Prediction","t":"2011-06-25T23:00","f":323,"a":284},
{"s":19,"k":"Over Prediction","t":"2011-06-26T01:00","f":460,"a":367},{"s":19,"k":"Over Prediction","t":"2011-06-26T03:00","f":544,"a":485},{"s":19,"k":"Over Prediction","t":"2011-06-26T04:00","f":549,"a":507},{"s":19,"k":"Over Prediction","t":"2011-06-26T05:00","f":540,"a":490},{"s":19,"k":"Over Prediction","t":"2011-06-26T07:00","f":588,"a":465},
{"s":20,"k":"Under Prediction","t":"2011-06-26T20:00","f":294,"a":300},{"s":20,"k":"Under Prediction","t":"2011-06-26T21:00","f":254,"a":313},{"s":20,"k":"Under Prediction","t":"2011-06-26T22:00","f":237,"a":284},
{"s":21,"k":"Over Prediction","t":"2011-06-27T11:00","f":306,"a":279},{"s":21,"k":"Over Prediction","t":"2011-06-27T12:00","f":299,"a":230},{"s":21,"k":"Over Prediction","t":"2011-06-27T14:00","f":230,"a":200},{"s":21,"k":"Over Prediction","t":"2011-06-27T15:00","f":210,"a":188},{"s":21,"k":"Over Prediction","t":"2011-06-27T18:00","f":220,"a":193},{"s":21,"k":"Over Prediction","t":"2011-06-27T19:00","f":231,"a":181},{"s":21,"k":"Over Prediction","t":"2011-06-27T21:00","f":215,"a":137},{"s":21,"k":"Over Prediction","t":"2011-06-27T22:00","f":190,"a":102},{"s":21,"k":"Over Prediction","t":"2011-06-27T23:00","f":171,"a":73},
{"s":22,"k":"Over Prediction","t":"2011-06-28T01:00","f":166,"a":36},{"s":22,"k":"Over Prediction","t":"2011-06-28T03:00","f":146,"a":53},{"s":22,"k":"Over Prediction","t":"2011-06-28T04:00","f":144,"a":83},{"s":22,"k":"Over Prediction","t":"2011-06-28T06:00","f":137,"a":71},{"s":22,"k":"Over Prediction","t":"2011-06-28T08:00","f":115,"a":44},{"s":22,"k":"Over Prediction","t":"2011-06-28T10:00","f":132,"a":31},{"s":22,"k":"Over Prediction","t":"2011-06-28T12:00","f":159,"a":53},{"s":22,"k":"Over Prediction","t":"2011-06-28T14:00","f":144,"a":83},{"s":22,"k":"Over Prediction","t":"2011-06-28T16:00","f":164,"a":102},{"s":22,"k":"Over Prediction","t":"2011-06-28T17:00","f":170,"a":88},{"s":22,"k":"Over Prediction","t":"2011-06-28T19:00","f":166,"a":73},{"s":22,"k":"Over Prediction","t":"2011-06-28T21:00","f":112,"a":44},{"s":22,"k":"Over Prediction","t":"2011-06-28T22:00","f":73,"a":68},
{"s":23,"k":"Under Prediction","t":"2011-06-29T02:00","f":61,"a":53},{"s":23,"k":"Under Prediction","t":"2011-06-29T04:00","f":49,"a":73},{"s":23,"k":"Under Prediction","t":"2011-06-29T05:00","f":44,"a":110},{"s":23,"k":"Under Prediction","t":"2011-06-29T06:00","f":42,"a":125},{"s":23,"k":"Under Prediction","t":"2011-06-29T07:00","f":41,"a":130},{"s":23,"k":"Under Prediction","t":"2011-06-29T09:00","f":47,"a":122},{"s":23,"k":"Under Prediction","t":"2011-06-29T10:00","f":53,"a":88},{"s":23,"k":"Under Prediction","t":"2011-06-29T11:00","f":62,"a":68},
{"s":24,"k":"Over Prediction","t":"2011-06-29T11:00","f":62,"a":68},{"s":24,"k":"Over Prediction","t":"2011-06-29T13:00","f":95,"a":68},{"s":24,"k":"Over Prediction","t":"2011-06-29T14:00","f":117,"a":73},{"s":24,"k":"Over Prediction","t":"2011-06-29T16:00","f":165,"a":80},
{"s":25,"k":"Over Prediction","t":"2011-06-29T18:00","f":215,"a":115},{"s":25,"k":"Over Prediction","t":"2011-06-29T20:00","f":205,"a":78},{"s":25,"k":"Over Prediction","t":"2011-06-29T21:00","f":160,"a":39},{"s":25,"k":"Over Prediction","t":"2011-06-29T23:00","f":93,"a":26},
{"s":26,"k":"Over Prediction","t":"2011-06-30T01:00","f":127,"a":34},{"s":26,"k":"Over Prediction","t":"2011-06-30T03:00","f":147,"a":39},
{"s":27,"k":"Over Prediction","t":"2011-06-30T07:00","f":150,"a":58},{"s":27,"k":"Over Prediction","t":"2011-06-30T08:00","f":53,"a":66},
{"s":28,"k":"Under Prediction","t":"2011-06-30T14:00","f":100,"a":112},{"s":28,"k":"Under Prediction","t":"2011-06-30T16:00","f":180,"a":200},{"s":28,"k":"Under Prediction","t":"2011-06-30T17:00","f":210,"a":259},{"s":28,"k":"Under Prediction","t":"2011-06-30T19:00","f":235,"a":247},{"s":28,"k":"Under Prediction","t":"2011-06-30T20:00","f":237,"a":264},{"s":28,"k":"Under Prediction","t":"2011-06-30T22:00","f":205,"a":240},{"s":28,"k":"Under Prediction","t":"2011-06-30T23:00","f":190,"a":225},
{"s":29,"k":"Under Prediction","t":"2011-07-01T01:00","f":165,"a":193},{"s":29,"k":"Under Prediction","t":"2011-07-01T03:00","f":154,"a":166},{"s":29,"k":"Under Prediction","t":"2011-07-01T04:00","f":148,"a":122},
{"s":30,"k":"Over Prediction","t":"2011-07-01T04:00","f":148,"a":122},{"s":30,"k":"Over Prediction","t":"2011-07-01T06:00","f":112,"a":88},{"s":30,"k":"Over Prediction","t":"2011-07-01T07:00","f":100,"a":63},
{"s":31,"k":"Over Prediction","t":"2011-07-01T09:00","f":83,"a":34},{"s":31,"k":"Over Prediction","t":"2011-07-01T10:00","f":70,"a":20},{"s":31,"k":"Over Prediction","t":"2011-07-01T11:00","f":63,"a":14},{"s":31,"k":"Over Prediction","t":"2011-07-01T12:00","f":58,"a":34},{"s":31,"k":"Over Prediction","t":"2011-07-01T13:00","f":65,"a":44},
{"s":32,"k":"Under Prediction","t":"2011-07-01T21:00","f":88,"a":112},{"s":32,"k":"Under Prediction","t":"2011-07-01T22:00","f":93,"a":98},{"s":32,"k":"Under Prediction","t":"2011-07-01T23:00","f":98,"a":122},{"s":32,"k":"Under Prediction","t":"2011-07-02T00:00","f":107,"a":100}
]
},
"layer": [
  {"data": {"name": "bands"}, "mark": {"type": "rect", "color": "#ebe7ea"},
   "encoding": {
     "x": {"field": "s", "type": "temporal",
       "axis": {"title": "Time (GTB Standard Time)", "tickCount": "day", "format": "%b %d %Y %H:%M",
         "labelAngle": -45, "labelAlign": "right", "labelBaseline": "middle", "labelPadding": 2, "labelOverlap": false}},
     "x2": {"field": "e"}}},
  {"data": {"name": "fill"}, "mark": {"type": "area"},
   "encoding": {
     "x": {"field": "t", "type": "temporal"},
     "y": {"field": "f", "type": "quantitative", "scale": {"domain": [0, 700]},
       "axis": {"title": "Forecast Energy (MWh)", "values": [0,50,100,150,200,250,300,350,400,450,500,550,600,650,700]}},
     "y2": {"field": "a"},
     "color": {"field": "k", "type": "nominal",
       "scale": {"domain": ["Forecast", "Actual", "Over Prediction", "Under Prediction"], "range": ["#1c1cd8", "#a01414", "#d3d3f6", "#f7cdd3"]},
       "legend": {"title": null, "orient": "none", "legendX": 104, "legendY": 679, "direction": "horizontal", "columns": 4, "columnPadding": 70,
         "symbolType": "square", "symbolSize": 160, "symbolStrokeWidth": 1, "symbolStrokeColor": "#333",
         "labelFont": "Liberation Sans Narrow, Liberation Sans", "labelFontSize": 18, "labelColor": "#111"}},
     "detail": {"field": "s", "type": "nominal"}
   }},
  {"data": {"name": "actual"}, "mark": {"type": "line", "strokeWidth": 1.8},
   "encoding": {"x": {"field": "t", "type": "temporal"}, "y": {"field": "v", "type": "quantitative"}, "color": {"datum": "Actual"}, "detail": {"field": "g", "type": "nominal"}}},
  {"data": {"name": "forecast"}, "mark": {"type": "line", "strokeWidth": 1.8},
   "encoding": {"x": {"field": "t", "type": "temporal"}, "y": {"field": "v", "type": "quantitative"}, "color": {"datum": "Forecast"}, "detail": {"field": "g", "type": "nominal"}}}
]
}
